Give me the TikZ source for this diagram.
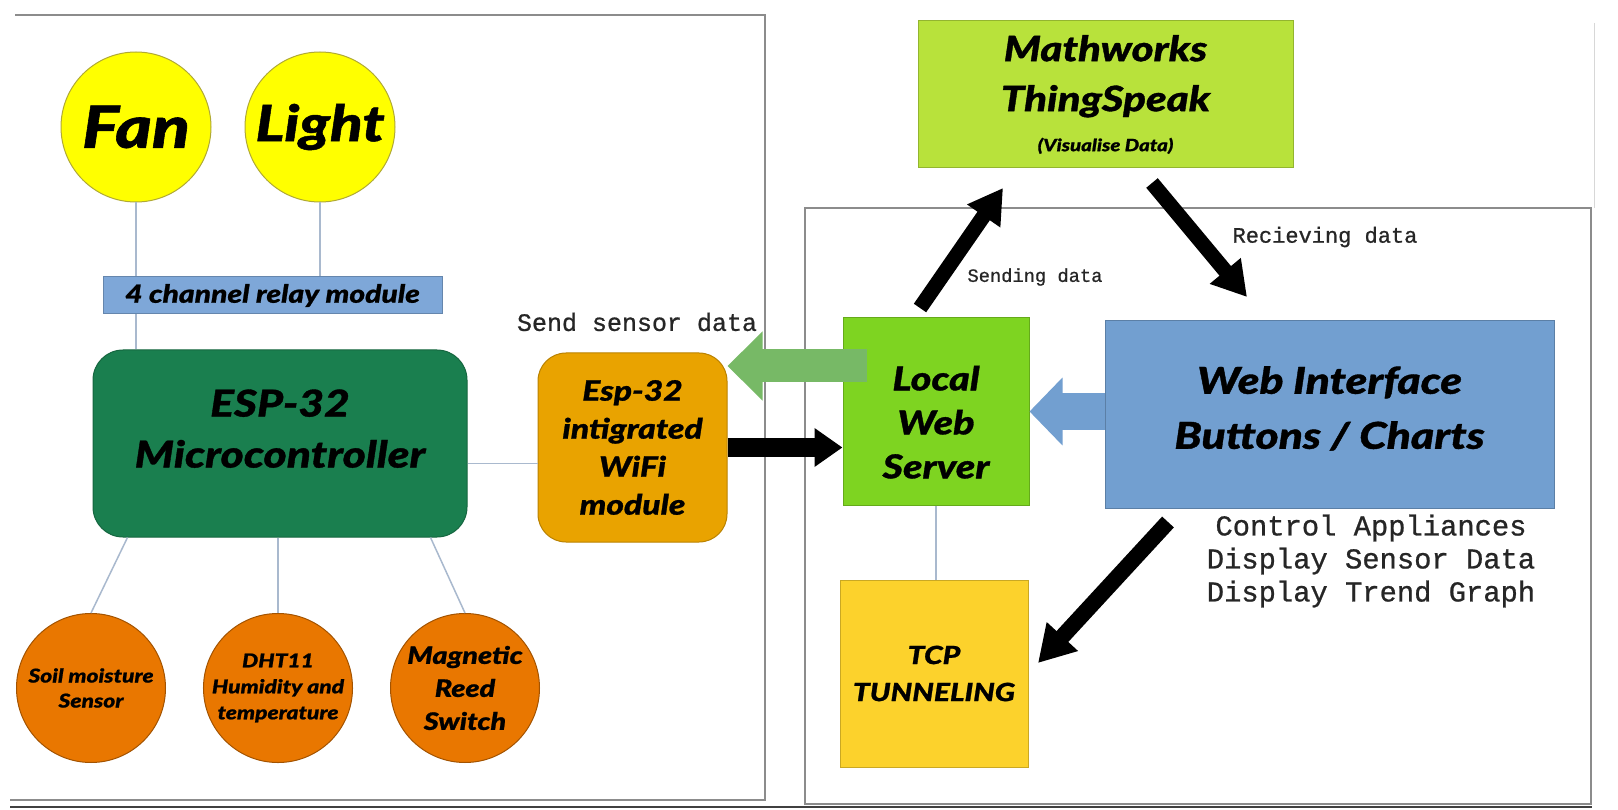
\documentclass[tikz,border=0pt]{standalone}
\usepackage{fontspec}
\usetikzlibrary{arrows.meta,calc}
\IfFontExistsTF{Lato Black Italic}
  {\newfontfamily\heavy{Lato Black Italic}[FakeStretch=1.2, FakeBold=1]}
  {\newfontfamily\heavy{Poppins}[UprightFont=* Bold Italic]}
\newfontfamily\typewriter{Liberation Mono}[FakeBold=0.8]

\definecolor{lampyellow}{HTML}{FFFF00}
\definecolor{relayblue}{HTML}{7EA7D8}
\definecolor{espgreen}{HTML}{1A7F4F}
\definecolor{wifiorange}{HTML}{E9A300}
\definecolor{sensororange}{HTML}{E97700}
\definecolor{thinggreen}{HTML}{B8E23B}
\definecolor{servergreen}{HTML}{7ED421}
\definecolor{webblue}{HTML}{729FD0}
\definecolor{tcpyellow}{HTML}{FCD22C}
\definecolor{sendgreen}{HTML}{77B966}
\definecolor{wirecol}{HTML}{A9B9CE}
\definecolor{framecol}{HTML}{8C8C8C}

\newcommand{\fs}[1]{\fontsize{#1}{#1}\selectfont}

\begin{document}
\begin{tikzpicture}[x=1pt,y=-1pt,
	lamp/.style={circle, draw=olive!70, line width=1pt, fill=lampyellow, minimum size=150pt, inner sep=0pt},
	sensor/.style={circle, draw=sensororange!70!black, line width=1pt, fill=sensororange, minimum size=149pt, inner sep=0pt, align=center},
	block/.style={draw=#1!80!black, line width=1pt, fill=#1, inner sep=0pt, align=center},
	wire/.style={draw=wirecol, line width=1.5pt},
	frame/.style={draw=framecol, line width=1.5pt},
	fatarrow/.style={line width=#1},
	label/.style={font=\typewriter, text=black!85, inner sep=0pt}]

	\useasboundingbox (0,0) rectangle (1618,810);
	\fill[white] (0,0) rectangle (1618,810);

	%panel frames
	\draw[frame] (15,15) -- (765,15) -- (765,800) -- (10,800);
	\draw[frame] (805,208) rectangle (1591,804);
	\draw[framecol!35, line width=1pt] (1594,23) -- (1594,208);
	\draw[black!75, line width=2pt] (10,807) -- (1592,807);

	%appliances
	\node[lamp, font=\heavy\fs{58}] (fan) at (136,127){Fan};
	\node[lamp, font=\heavy\fs{50}] (light) at (320,127){Light};
	\node[block=relayblue, minimum width=339pt, minimum height=37pt, font=\heavy\fs{25}] (relay) at (272.5,295.5){4 channel relay module};

	%controller
	\node[block=espgreen, rounded corners=30pt, minimum width=374pt, minimum height=187pt, font=\heavy\fontsize{37}{51}\selectfont] (esp) at (280,443.5){ESP-32\\Microcontroller\\[-21pt]\mbox{}};
	\node[block=wifiorange, rounded corners=28pt, minimum width=189pt, minimum height=189pt, font=\heavy\fontsize{28}{38}\selectfont] (wifi) at (632.5,447.5){Esp-32\\intigrated\\WiFi\\module};

	%sensors
	\node[sensor, font=\heavy\fontsize{19}{25}\selectfont] (soil) at (91,688){Soil moisture\\Sensor};
	\node[sensor, font=\heavy\fontsize{19}{26}\selectfont] (dht) at (278,688){DHT11\\Humidity and\\temperature};
	\node[sensor, font=\heavy\fontsize{24}{33}\selectfont] (reed) at (465,688){Magnetic\\Reed\\Switch};

	%cloud and local side
	\node[block=thinggreen, minimum width=375pt, minimum height=147pt, font=\heavy\fontsize{35}{50}\selectfont] (thing) at (1105.5,94.5){Mathworks\\ThingSpeak\\[-10pt]{\fs{17}(Visualise Data)}};
	\node[block=servergreen, minimum width=186pt, minimum height=187pt, font=\heavy\fontsize{33}{44}\selectfont] (lws) at (936,411.5){\mbox{}\\[2pt]Local\\Web\\Server};
	\node[block=webblue, minimum width=449pt, minimum height=187pt, font=\heavy\fontsize{37}{55}\selectfont] (web) at (1329.5,414.5){Web Interface\\Buttons / Charts\\[-41pt]\mbox{}};
	\node[block=tcpyellow, minimum width=188pt, minimum height=187pt, font=\heavy\fontsize{25}{37}\selectfont] (tcp) at (934,673.5){TCP\\TUNNELING};

	%wires
	\draw[wire] (fan.south) -- (fan.south |- relay.north);
	\draw[wire] (light.south) -- (light.south |- relay.north);
	\draw[wire] (relay.south -| fan.south) -- (esp.north -| fan.south);
	\draw[wire] ([yshift=-16pt]wifi.west) -- ([yshift=-16pt]wifi.west -| esp.east);
	\draw[wire] ($(esp.south west)+(35,0)$) -- (soil.north);
	\draw[wire] (esp.south -| dht.north) -- (dht.north);
	\draw[wire] ($(esp.south east)+(-37,0)$) -- (reed.north);
	\draw[wire] (lws.south) -- (lws.south |- tcp.north);

	%arrows
	\coordinate (gtail) at (867,366);
	\coordinate (sendtail) at (920,308);
	\coordinate (sendtip) at (1003,188);
	\coordinate (gettail) at (1152,183);
	\coordinate (gettip) at (1247,297);
	\coordinate (tcptail) at (1168,522);
	\coordinate (tcptip) at (1038,663);
	\draw[draw=sendgreen, fatarrow=33pt, -{Triangle[width=67pt, length=35pt]}] (gtail) -- (wifi.east |- gtail);
	\draw[fatarrow=19pt, -{Triangle[width=37pt, length=28pt]}] (wifi.east) -- (wifi.east -| lws.west);
	\draw[draw=webblue, fatarrow=36pt, -{Triangle[width=66pt, length=33pt]}] (web.west |- lws.east) -- (lws.east);
	\draw[fatarrow=15pt, -{Triangle[width=38pt, length=34pt]}] (sendtail) -- (sendtip);
	\draw[fatarrow=15pt, -{Triangle[width=38pt, length=34pt]}] (gettail) -- (gettip);
	\draw[fatarrow=16pt, -{Triangle[width=40pt, length=36pt]}] (tcptail) -- (tcptip);

	%labels
	\node[label, font=\typewriter\fs{25}] (sendlbl) at (637,322){Send sensor data};
	\node[label, font=\typewriter\fs{18.75}] (sendinglbl) at (1035,277){Sending data};
	\node[label, font=\typewriter\fs{22}] (getlbl) at (1325,237){Recieving data};
	\node[label, align=center, font=\typewriter\fontsize{28.8}{33}\selectfont] (weblbl) at (1371,561){Control Appliances\\Display Sensor Data\\Display Trend Graph};

\end{tikzpicture}
\end{document}
